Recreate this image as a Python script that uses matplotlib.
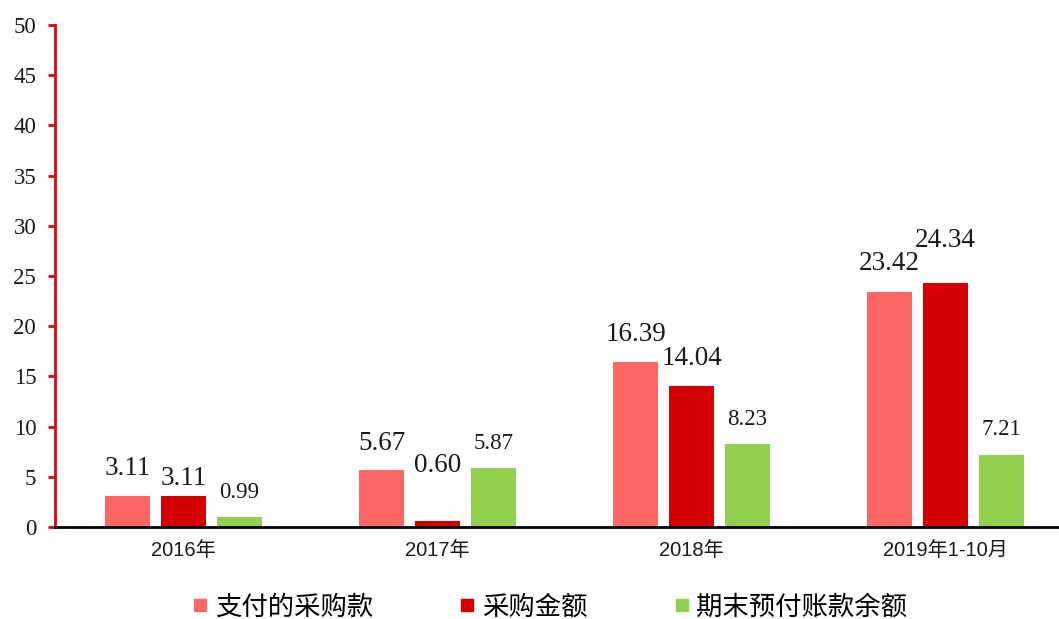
import matplotlib
matplotlib.use("Agg")
import matplotlib.pyplot as plt
import numpy as np
from matplotlib.lines import Line2D

categories = ["2016年", "2017年", "2018年", "2019年1-10月"]
series_names = ["支付的采购款", "采购金额", "期末预付账款余额"]
paid = [3.11, 5.67, 16.39, 23.42]
purchase = [3.11, 0.60, 14.04, 24.34]
prepaid = [0.99, 5.87, 8.23, 7.21]
y_ticks = list(range(0, 51, 5))

colors = ["#FF6666", "#D50000", "#92D050"]
# label offsets above bar top, in pixels (manual label placement in source)
label_offsets = [
    [27, 27, 28, 28],
    [17, 55, 28, 42],
    [25, 25, 25, 25],
]
label_sizes = [19.5, 19.5, 16.5]

W, H = 1059, 619
fig = plt.figure(figsize=(W / 100, H / 100), dpi=100)
ax = fig.add_axes([55 / W, (H - 527) / H, 1 - 55 / W, (527 - 25) / H])

x = np.arange(len(categories))
step = 56 / 254
width = 45 / 254
serif = ["Liberation Serif", "DejaVu Serif"]
for i, vals in enumerate([paid, purchase, prepaid]):
    xs = x + (i - 1) * step
    ax.bar(xs, vals, width=width, color=colors[i], zorder=2)
    for xi, v, off in zip(xs, vals, label_offsets[i]):
        ax.annotate(f"{v:.2f}", (xi, v), xytext=(0, off * 0.72), textcoords="offset points",
                    ha="center", va="center", fontsize=label_sizes[i], family=serif, color="#1a1a1a")

ax.set_xlim((55 - 183.5) / 254, (1059 - 183.5) / 254)
ax.set_ylim(0, 50)
ax.set_yticks(y_ticks)
ax.set_yticklabels([str(t) for t in y_ticks], family=serif, fontsize=16.5, color="#1a1a1a")
ax.set_xticks(x)
ax.set_xticklabels(categories, family=["Liberation Sans", "Noto Sans CJK SC"], fontsize=14.5, color="#1a1a1a")
ax.tick_params(axis="x", length=0, pad=10)
ax.tick_params(axis="y", length=5, width=2, color="#E60012", pad=8.5)

for s in ["top", "right"]:
    ax.spines[s].set_visible(False)
ax.spines["left"].set_color("#E60012")
ax.spines["left"].set_linewidth(2)
ax.spines["bottom"].set_color("black")
ax.spines["bottom"].set_linewidth(2)
ax.spines["bottom"].set_zorder(3)

handles = [Line2D([0], [0], marker="s", linestyle="none", markersize=8.6,
                  markerfacecolor=c, markeredgecolor=c) for c in colors]
fig.legend(handles, series_names, loc="center left", bbox_to_anchor=(182 / W, (H - 607) / H),
           ncol=3, frameon=False, prop={"family": ["Noto Sans CJK SC"], "size": 19},
           handletextpad=0.25, columnspacing=3.27, handlelength=0.6, borderaxespad=0)

fig.savefig("out.png", dpi=100)
